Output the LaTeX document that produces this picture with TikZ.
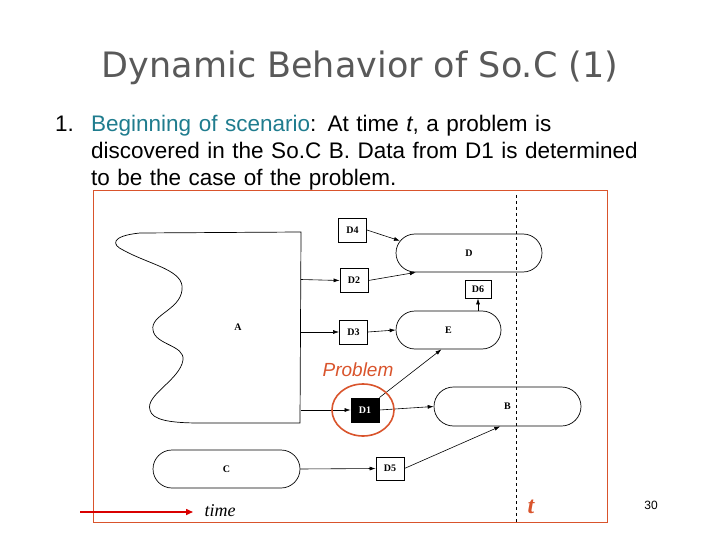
\documentclass[tikz,border=0pt]{standalone}
\usepackage{fontspec}
\setmainfont{Liberation Sans}
\newfontfamily\serifb{Liberation Serif}
\newfontfamily\titlef{DejaVu Sans}
\usetikzlibrary{arrows.meta,shapes.misc}
\definecolor{teal1}{HTML}{1F7C8E}
\definecolor{orng}{HTML}{D9542C}
\begin{document}
\begin{tikzpicture}[x=1pt,y=-1pt,
  dbox/.style={draw,line width=0.8pt,minimum width=28pt,minimum height=24pt,inner sep=0pt,font=\serifb\bfseries\fontsize{10}{10}\selectfont},
  proc/.style={draw,rounded rectangle,line width=0.7pt,inner sep=0pt,font=\serifb\bfseries\fontsize{10}{10}\selectfont},
  arr/.style={-{Latex[length=6pt,width=4pt]},line width=0.6pt},
  lbl/.style={font=\serifb\bfseries\fontsize{10}{10}\selectfont}]
\useasboundingbox (0,0) rectangle (720,540);
\node[text=black!65,font=\titlef\fontsize{35}{35}\selectfont] (title) at (360,68) {Dynamic Behavior of So.C (1)};
\node[anchor=base west,font=\fontsize{22.5}{27}\selectfont,inner sep=0pt] (num) at (55,132) {1.};
\node[anchor=base west,font=\fontsize{22.5}{27}\selectfont,text width=640pt,align=left,inner sep=0pt] (txt) at (91,132)
 {\textcolor{teal1}{Beginning of scenario}: At time \textit{t}, a problem is\\discovered in the So.C B. Data from D1 is determined\\to be the case of the problem.};
\draw[orng,line width=0.8pt] (93,190) rectangle (607,522);
\draw[dashed,line width=0.7pt] (516,195) -- (516,522);
% A shape
\draw[line width=0.7pt] (301,232) -- (140,233) .. controls (110,236) and (112,245) .. (123,250)
 .. controls (150,265) and (185,270) .. (182,290) .. controls (180,310) and (150,315) .. (153,330)
 .. controls (155,345) and (185,345) .. (183,360) .. controls (180,380) and (145,395) .. (150,410)
 .. controls (152,420) and (170,423) .. (200,423) -- (300,423) -- cycle;
\node[lbl] (A) at (238,327) {A};
\node[dbox] (D4) at (352.5,230) {D4};
\node[dbox] (D2) at (354,280.5) {D2};
\node[dbox] (D3) at (353.5,332) {D3};
\node[dbox,fill=black,text=white,minimum width=28pt] (D1) at (365,410) {D1};
\node[dbox,minimum height=23pt] (D5) at (390,468.5) {D5};
\node[dbox,minimum width=26pt,minimum height=18pt] (D6) at (478,289) {D6};
\node[proc,minimum width=146pt,minimum height=38pt] (D) at (469,253) {D};
\node[proc,minimum width=105pt,minimum height=38pt] (E) at (448.5,330) {E};
\node[proc,minimum width=147pt,minimum height=39pt] (B) at (507.5,406.5) {B};
\node[proc,minimum width=147pt,minimum height=38pt] (C) at (226.5,469) {C};
\coordinate (a2) at (301,279.5);
\coordinate (a3) at (301,332);
\coordinate (a1) at (301,410);
\draw[arr] (a2) -- (D2.west);
\draw[arr] (a3) -- (D3.west);
\draw[arr] (a1) -- (D1.west);
\draw[arr] (D4.east) -- (D.170);
\draw[arr] (D2.east) -- (D.200);
\draw[arr] (D3.east) -- (E.west);
\draw[arr] (D1.north east) -- (E.250);
\draw[arr] (D1.east) -- (B.west);
\draw[arr] (D6.south |- E.north) -- (D6.south);
\draw[arr] (C.east) -- (D5.west);
\draw[arr] (D5.east) -- (B.250);
\node[text=orng,font=\itshape\fontsize{19}{19}\selectfont] (prob) at (358,370) {Problem};
\draw[orng,line width=1.6pt] (363,410) ellipse [x radius=31, y radius=26];
\coordinate (t0) at (80,512);
\coordinate (t1) at (193,512);
\draw[red!85!black,line width=1.5pt,-{Triangle[length=7pt,width=6pt]}] (t0) -- (t1);
\node[font=\serifb\itshape\fontsize{18}{18}\selectfont] (time) at (220,511) {time};
\node[text=orng,font=\serifb\itshape\bfseries\fontsize{24}{24}\selectfont] (t) at (531,507) {t};
\node[font=\fontsize{12}{12}\selectfont] (pg) at (651,505) {30};
\end{tikzpicture}
\end{document}
